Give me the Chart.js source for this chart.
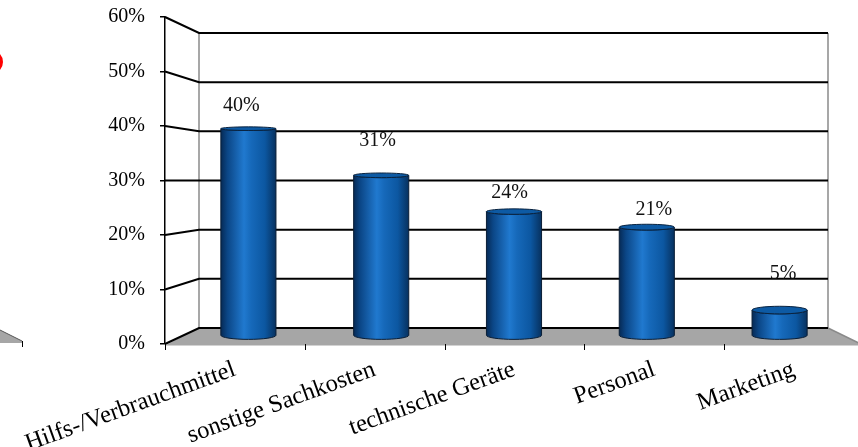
<!DOCTYPE html>
<html lang="de">
<head>
<meta charset="UTF-8">
<title>Kostenverteilung</title>
<script src="https://cdn.jsdelivr.net/npm/chart.js"></script>
<style>
  html, body { margin: 0; padding: 0; background: #fff; }
  #wrap { width: 858px; height: 447px; position: relative; }
</style>
</head>
<body>
<div id="wrap"><canvas id="chart"></canvas></div>
<script>
const categories = ['Hilfs-/Verbrauchmittel', 'sonstige Sachkosten', 'technische Geräte', 'Personal', 'Marketing'];
const shares = [40, 31, 24, 21, 5];
const tickValues = [0, 10, 20, 30, 40, 50, 60];

// where each value label sits relative to its bar top (dx, dy in px)
const labelNudge = [[-7, -23], [-3.5, -35], [-4.5, -19], [7, -17.5], [3.5, -36]];

const SERIF = '"Liberation Serif", "Times New Roman", serif';

// Maps a point of the front plane (chart area) onto a plane at depth t:
// t = 0 is the back wall, t = 1 the front edge of the floor.
function plane(chart, t) {
  const a = chart.chartArea;
  const fw = a.right - a.left;
  const fh = a.bottom - a.top;
  const left = a.left + 34 * (1 - t);
  const width = fw - 64 + 70 * t;
  const base = a.bottom - 16 * (1 - t);
  const k = (fh - 32 + 32 * t) / fh;
  return {
    x: xf => left + (xf - a.left) / fw * width,
    y: yf => base - (a.bottom - yf) * k,
    scaleX: width / fw
  };
}

const box3d = {
  id: 'box3d',
  beforeDraw(chart) {
    const ctx = chart.ctx;
    // edge of the neighbouring panel
    ctx.save();
    ctx.strokeStyle = '#ff0000';
    ctx.lineWidth = 3;
    ctx.beginPath();
    ctx.ellipse(-10, 62, 11.5, 11, 0, 0, Math.PI * 2);
    ctx.stroke();
    ctx.fillStyle = '#a6a6a6';
    ctx.beginPath();
    ctx.moveTo(0, 330);
    ctx.lineTo(22, 341);
    ctx.lineTo(22, 343);
    ctx.lineTo(0, 343);
    ctx.closePath();
    ctx.fill();
    ctx.strokeStyle = '#555';
    ctx.lineWidth = 1;
    ctx.beginPath();
    ctx.moveTo(0, 330);
    ctx.lineTo(22, 341);
    ctx.stroke();
    ctx.strokeStyle = '#000';
    ctx.beginPath();
    ctx.moveTo(22.5, 341);
    ctx.lineTo(22.5, 347);
    ctx.stroke();
    ctx.restore();
  },
  beforeDatasetsDraw(chart) {
    const ctx = chart.ctx;
    const a = chart.chartArea;
    const ys = chart.scales.y;
    const back = plane(chart, 0);
    const front = plane(chart, 1);
    const bl = back.x(a.left), br = back.x(a.right);
    const fl = front.x(a.left), fr = front.x(a.right);
    const yb0 = back.y(a.bottom), yf0 = front.y(a.bottom);
    const ybTop = back.y(a.top);

    ctx.save();
    // floor
    ctx.fillStyle = '#a6a6a6';
    ctx.beginPath();
    ctx.moveTo(fl, yf0 + 1.5);
    ctx.lineTo(bl, yb0);
    ctx.lineTo(br, yb0);
    ctx.lineTo(fr, yf0 + 1.5);
    ctx.closePath();
    ctx.fill();

    // back wall corners
    ctx.strokeStyle = '#8a8a8a';
    ctx.lineWidth = 1.5;
    ctx.beginPath();
    ctx.moveTo(bl, ybTop);
    ctx.lineTo(bl, yb0);
    ctx.moveTo(br, ybTop);
    ctx.lineTo(br, yb0);
    ctx.moveTo(br, yb0);
    ctx.lineTo(fr, yf0 + 1.5);
    ctx.stroke();

    // grid lines across side wall and back wall
    ctx.strokeStyle = '#000';
    ctx.lineWidth = 2;
    tickValues.forEach(v => {
      const yf = ys.getPixelForValue(v);
      ctx.beginPath();
      ctx.moveTo(front.x(a.left), front.y(yf));
      ctx.lineTo(back.x(a.left), back.y(yf));
      ctx.lineTo(back.x(a.right), back.y(yf));
      ctx.stroke();
    });

    // category separators below the floor edge
    ctx.lineWidth = 1;
    const step = (a.right - a.left) / categories.length;
    for (let i = 0; i < categories.length; i++) {
      const x = Math.round(front.x(a.left + i * step)) + 0.5;
      ctx.beginPath();
      ctx.moveTo(x, yf0);
      ctx.lineTo(x, yf0 + 6);
      ctx.stroke();
    }
    ctx.restore();
  },
  afterDatasetsDraw(chart) {
    const ctx = chart.ctx;
    const mid = plane(chart, 0.5);
    const front = plane(chart, 1);
    const meta = chart.getDatasetMeta(0);
    const ry = y => 1.5 + Math.max(0, y - 100) * 0.011;

    ctx.save();
    meta.data.forEach((el, i) => {
      const cx = mid.x(el.x);
      const top = mid.y(el.y);
      const base = mid.y(el.base);
      const r = el.width * mid.scaleX / 2;
      const ryT = ry(top), ryB = ry(base);

      const g = ctx.createLinearGradient(cx - r, 0, cx + r, 0);
      g.addColorStop(0, '#062a55');
      g.addColorStop(0.12, '#0b4686');
      g.addColorStop(0.42, '#2079cf');
      g.addColorStop(0.55, '#1669ba');
      g.addColorStop(0.8, '#0c57a1');
      g.addColorStop(1, '#07315f');

      ctx.beginPath();
      ctx.moveTo(cx - r, top);
      ctx.lineTo(cx - r, base);
      ctx.ellipse(cx, base, r, ryB, 0, Math.PI, 0, true);
      ctx.lineTo(cx + r, top);
      ctx.ellipse(cx, top, r, ryT, 0, 0, Math.PI, false);
      ctx.closePath();
      ctx.fillStyle = g;
      ctx.fill();
      ctx.strokeStyle = '#0a1e36';
      ctx.lineWidth = 1;
      ctx.stroke();

      // lid
      ctx.beginPath();
      ctx.ellipse(cx, top, r, ryT, 0, 0, Math.PI * 2);
      ctx.fillStyle = '#0d5aa4';
      ctx.fill();
      ctx.strokeStyle = '#08223f';
      ctx.stroke();

      // value label
      const n = labelNudge[i];
      ctx.fillStyle = '#111';
      ctx.font = '20px ' + SERIF;
      ctx.textAlign = 'center';
      ctx.textBaseline = 'middle';
      ctx.fillText(shares[i] + '%', cx + n[0], top + n[1]);
    });

    // rotated category names along the front edge
    ctx.font = '24.5px ' + SERIF;
    ctx.fillStyle = '#000';
    ctx.textAlign = 'right';
    ctx.textBaseline = 'alphabetic';
    categories.forEach((name, i) => {
      const x = front.x(chart.scales.x.getPixelForValue(i)) + 2;
      ctx.save();
      ctx.translate(x, 375);
      ctx.rotate(-20 * Math.PI / 180);
      ctx.fillText(name, 0, 0);
      ctx.restore();
    });
    ctx.restore();
  }
};

new Chart(document.getElementById('chart'), {
  type: 'bar',
  data: {
    labels: categories,
    datasets: [{
      data: shares,
      backgroundColor: 'rgba(0,0,0,0)',
      borderWidth: 0,
      barPercentage: 0.415,
      categoryPercentage: 1
    }]
  },
  options: {
    responsive: true,
    maintainAspectRatio: false,
    animation: false,
    layout: { padding: { left: 105, right: 0, top: 17, bottom: 103 } },
    plugins: { legend: { display: false }, tooltip: { enabled: false } },
    scales: {
      x: { display: false },
      y: {
        min: 0,
        max: 60,
        afterBuildTicks: s => { s.ticks = tickValues.map(v => ({ value: v })); },
        afterFit: s => { s.width = 60; s.paddingTop = 0; s.paddingBottom = 0; },
        ticks: {
          callback: v => v + '%',
          color: '#000',
          padding: 15,
          font: { family: SERIF, size: 20 }
        },
        grid: { drawOnChartArea: false, tickLength: 5, color: '#000', lineWidth: 1.5 },
        border: { color: '#000', width: 1.5 }
      }
    }
  },
  plugins: [box3d]
});
</script>
</body>
</html>
